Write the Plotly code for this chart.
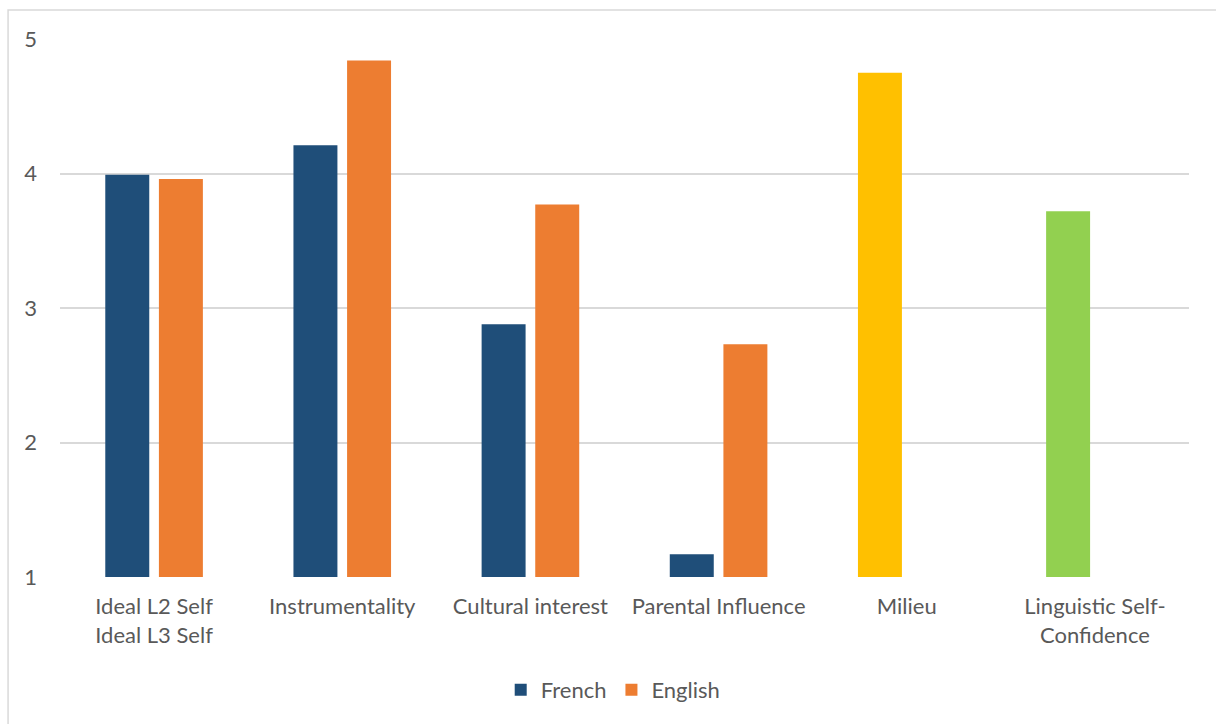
import plotly.graph_objects as go

# Motivation scale means by category
categories = [
    "Ideal L2 Self<br>Ideal L3 Self",
    "Instrumentality",
    "Cultural interest",
    "Parental Influence",
    "Milieu",
    "Linguistic Self-<br>Confidence",
]
french = [3.99, 4.21, 2.88, 1.17, 4.75, 3.72]
english = [3.96, 4.84, 3.77, 2.73, None, None]
y_ticks = [1, 2, 3, 4, 5]

# French bars carry per-point colours for the two single-value scales
french_colors = ["#1F4E79", "#1F4E79", "#1F4E79", "#1F4E79", "#FFC000", "#92D050"]
ENGLISH_COLOR = "#ED7D31"

FONT = "Lato"
TEXT_COLOR = "#595959"
GRID_COLOR = "#D9D9D9"

fig = go.Figure()
fig.add_trace(go.Bar(
    name="French", x=categories, y=french,
    marker=dict(color=french_colors, line=dict(width=0)),
))
fig.add_trace(go.Bar(
    name="English", x=categories, y=english,
    marker=dict(color=ENGLISH_COLOR, line=dict(width=0)),
))

fig.update_layout(
    width=1216, height=724,
    margin=dict(l=60, r=27, t=39, b=147),
    paper_bgcolor="white", plot_bgcolor="white",
    font=dict(family=FONT, size=22, color=TEXT_COLOR),
    barmode="group", bargap=0.43, bargroupgap=0.18,
    showlegend=True,
    legend=dict(
        orientation="h", x=0.49, xanchor="center",
        yref="container", y=0.047, yanchor="middle",
        font=dict(family=FONT, size=22, color=TEXT_COLOR),
        itemclick=False,
    ),
    xaxis=dict(
        showgrid=False, showline=False, zeroline=False,
        ticks="", tickfont=dict(size=22), ticklabelstandoff=14,
    ),
    yaxis=dict(
        range=[1, 5], tickvals=y_ticks, ticktext=[str(v) for v in y_ticks],
        showgrid=True, gridcolor=GRID_COLOR, gridwidth=1.5,
        showline=False, zeroline=False, ticks="",
        tickfont=dict(size=22), ticklabelstandoff=22,
    ),
    shapes=[dict(
        type="rect", xref="paper", yref="paper",
        x0=-0.046, x1=1.2, y0=-0.5, y1=1.054,
        line=dict(color=GRID_COLOR, width=1.5), layer="below",
    )],
)

fig.write_html("out.html")
